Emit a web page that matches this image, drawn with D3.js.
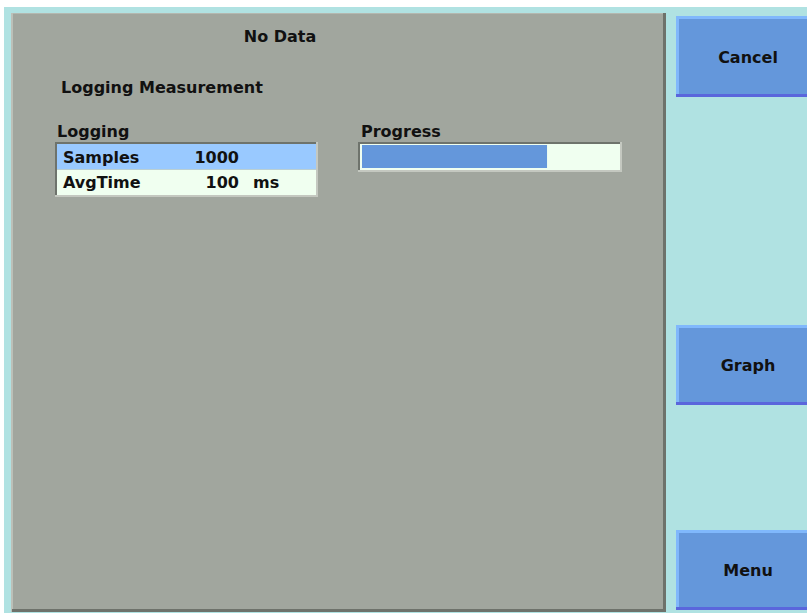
<!DOCTYPE html>
<html>
<head>
<meta charset="utf-8">
<script src="https://cdn.jsdelivr.net/npm/d3@7"></script>
<style>
  html, body { margin: 0; padding: 0; background: #ffffff; }
  svg { display: block; }
  text { font-family: "DejaVu Sans", sans-serif; font-weight: bold; font-size: 16px; fill: #111; }
</style>
</head>
<body>
<svg id="chart" width="807" height="613"></svg>
<script>
// ---- data ----
const title = "No Data";
const heading = "Logging Measurement";
const tableTitle = "Logging";
const rowLabels = ["Samples", "AvgTime"];
const rowValues = ["1000", "100"];
const rowUnits = ["", "ms"];
const progressTitle = "Progress";
const progressValue = [72];          // percent complete
const buttons = ["Cancel", "Graph", "Menu"];

// ---- drawing ----
const svg = d3.select("#chart");
const W = 807, H = 613;

// background
svg.append("rect").attr("x", 0).attr("y", 0).attr("width", W).attr("height", H).attr("fill", "#ffffff");
svg.append("rect").attr("x", 4).attr("y", 7).attr("width", W - 4).attr("height", H - 7).attr("fill", "#b0e2e2");

// main panel
const panel = {x: 11, y: 13, w: 655, h: 599};
svg.append("rect").attr("x", panel.x).attr("y", panel.y).attr("width", panel.w).attr("height", panel.h).attr("fill", "#a1a69e");
svg.append("rect").attr("x", panel.x).attr("y", panel.y).attr("width", panel.w).attr("height", 1).attr("fill", "#b4b8b0");
svg.append("rect").attr("x", panel.x).attr("y", panel.y).attr("width", 2).attr("height", panel.h).attr("fill", "#bcc0b8");
svg.append("rect").attr("x", panel.x + panel.w - 3).attr("y", panel.y).attr("width", 3).attr("height", panel.h).attr("fill", "#6e726b");
svg.append("rect").attr("x", panel.x + 1).attr("y", panel.y + panel.h - 3).attr("width", panel.w - 1).attr("height", 3).attr("fill", "#6e726b");

// texts
svg.append("text").attr("x", 280).attr("y", 42).attr("text-anchor", "middle").text(title);
svg.append("text").attr("x", 61).attr("y", 93).text(heading);
svg.append("text").attr("x", 57).attr("y", 137).text(tableTitle);
svg.append("text").attr("x", 361).attr("y", 137).text(progressTitle);

// inset box helper
function inset(x, y, w, h) {
  svg.append("rect").attr("x", x).attr("y", y).attr("width", w).attr("height", h).attr("fill", "#c4c8c0");
  svg.append("rect").attr("x", x).attr("y", y).attr("width", w - 2).attr("height", h - 2).attr("fill", "#6e736c");
}

// table
const tbl = {x: 55, y: 142, w: 263, h: 55};
inset(tbl.x, tbl.y, tbl.w, tbl.h);
const rowY = d3.scaleBand().domain(d3.range(rowLabels.length)).range([tbl.y + 2, tbl.y + tbl.h - 2]).paddingInner(0);
const rowColors = ["#99c9ff", "#f0fff0"];
rowLabels.forEach((lab, i) => {
  const y0 = rowY(i);
  svg.append("rect").attr("x", tbl.x + 2).attr("y", y0).attr("width", tbl.w - 4).attr("height", rowY.bandwidth())
    .attr("fill", rowColors[i]);
  const by = y0 + rowY.bandwidth() - 7;
  svg.append("text").attr("x", 63).attr("y", by).text(lab);
  svg.append("text").attr("x", 239).attr("y", by).attr("text-anchor", "end").text(rowValues[i]);
  if (rowUnits[i]) svg.append("text").attr("x", 253).attr("y", by).text(rowUnits[i]);
});

// progress bar
const pb = {x: 358, y: 142, w: 264, h: 30};
inset(pb.x, pb.y, pb.w, pb.h);
svg.append("rect").attr("x", pb.x + 2).attr("y", pb.y + 2).attr("width", pb.w - 4).attr("height", pb.h - 4).attr("fill", "#f0fff0");
const px = d3.scaleLinear().domain([0, 100]).range([362, 619]);
svg.selectAll("rect.prog").data(progressValue).enter().append("rect").attr("class", "prog")
  .attr("x", px(0)).attr("y", 145).attr("width", d => px(d) - px(0)).attr("height", 23)
  .attr("fill", "#6497db");

// soft keys
const btnTop = [16, 325, 530];
const btnH = [81, 80, 80];
buttons.forEach((b, i) => {
  const x = 676, y = btnTop[i], w = 140, h = btnH[i];
  svg.append("rect").attr("x", x).attr("y", y).attr("width", w).attr("height", h).attr("fill", "#5a66dc");
  svg.append("rect").attr("x", x).attr("y", y).attr("width", w).attr("height", h - 3).attr("fill", "#80b8fc");
  svg.append("rect").attr("x", x + 3).attr("y", y + 3).attr("width", w - 3).attr("height", h - 6).attr("fill", "#6497db");
  svg.append("text").attr("x", 748).attr("y", y + h / 2 + 6).attr("text-anchor", "middle").text(b);
});
</script>
</body>
</html>
